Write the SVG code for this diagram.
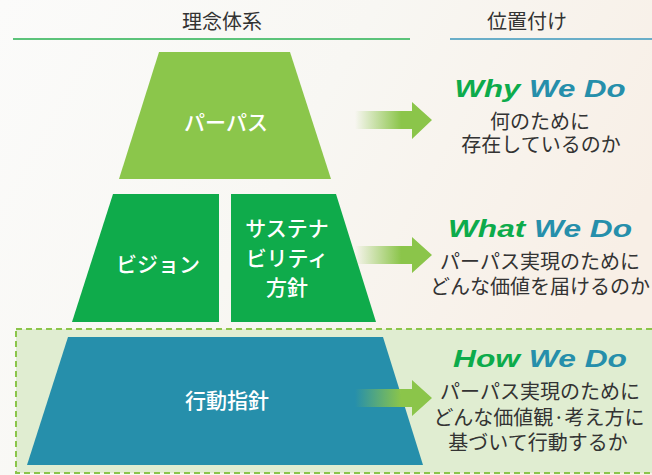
<svg xmlns="http://www.w3.org/2000/svg" width="652" height="475" viewBox="0 0 652 475">
<defs>
<linearGradient id="bg" x1="0" y1="0" x2="1" y2="0.4">
<stop offset="0" stop-color="#fbfbfa"/>
<stop offset="0.5" stop-color="#f8f7f3"/>
<stop offset="1" stop-color="#f8efe6"/>
</linearGradient>
<linearGradient id="arr" x1="0" y1="0" x2="1" y2="0">
<stop offset="0" stop-color="#8bc54a" stop-opacity="0"/>
<stop offset="0.6" stop-color="#8bc54a" stop-opacity="1"/>
<stop offset="1" stop-color="#8bc54a" stop-opacity="1"/>
</linearGradient>
</defs>
<style>
.hd{font-family:"Noto Sans CJK JP","Noto Sans",sans-serif;font-size:20px;fill:#333;text-anchor:middle}
.lb{font-family:"Noto Sans CJK JP","Noto Sans",sans-serif;font-size:21px;font-weight:500;fill:#fff;text-anchor:middle}
.ds{font-family:"Noto Sans CJK JP","Noto Sans",sans-serif;font-size:20px;fill:#333;text-anchor:middle}
.en{font-family:"Liberation Sans",Arial,sans-serif;font-size:23px;font-weight:bold;font-style:italic;text-anchor:middle}
.g{fill:#0dab4b}
.b{fill:#268fab}
</style>
<rect x="0" y="0" width="652" height="475" fill="url(#bg)"/>

<g id="header">
<text class="hd" x="222" y="29">理念体系</text>
<line x1="13" y1="39" x2="410" y2="39" stroke="#5cc37a" stroke-width="2"/>
<text class="hd" x="527" y="29">位置付け</text>
<line x1="450" y1="39" x2="652" y2="39" stroke="#6aaec8" stroke-width="2"/>
</g>

<g id="how-area">
<rect x="16" y="329" width="645" height="144" fill="#e0edd1" stroke="#8bc54a" stroke-width="2" stroke-dasharray="6 4"/>
</g>

<g id="purpose">
<polygon points="159,52 290,52 331,179 119,179" fill="#8bc64b"/>
<text class="lb" x="226" y="130">パーパス</text>
</g>

<g id="vision">
<polygon points="113,194 219,194 219,322 72,322" fill="#0fab4b"/>
<text class="lb" x="158" y="272">ビジョン</text>
</g>

<g id="sustainability">
<polygon points="231,194 336,194 376,322 231,322" fill="#0fab4b"/>
<text class="lb" x="287" y="236">サステナ</text>
<text class="lb" x="287" y="266">ビリティ</text>
<text class="lb" x="287" y="295">方針</text>
</g>

<g id="conduct">
<polygon points="68,337 383,337 423,465 27,465" fill="#268fab"/>
<text class="lb" x="227" y="408">行動指針</text>
</g>

<g id="connectors">
<polygon points="355,111 412,111 412,102 432,120 412,139 412,129 355,129" fill="url(#arr)"/>
<polygon points="355,246 412,246 412,237 432,255 412,273 412,264 355,264" fill="url(#arr)"/>
<polygon points="355,389 412,389 412,380 432,398 412,416 412,407 355,407" fill="url(#arr)"/>
</g>

<g id="why">
<text class="en" x="540" y="97" textLength="171" lengthAdjust="spacingAndGlyphs"><tspan class="g">Why</tspan> <tspan class="b">We Do</tspan></text>
<text class="ds" x="540" y="129">何のために</text>
<text class="ds" x="541" y="152">存在しているのか</text>
</g>

<g id="what">
<text class="en" x="540" y="237" textLength="184" lengthAdjust="spacingAndGlyphs"><tspan class="g">What</tspan> <tspan class="b">We Do</tspan></text>
<text class="ds" x="540" y="269">パーパス実現のために</text>
<text class="ds" x="540" y="294">どんな価値を届けるのか</text>
</g>

<g id="how">
<text class="en" x="540" y="367" textLength="174" lengthAdjust="spacingAndGlyphs"><tspan class="g">How</tspan> <tspan class="b">We Do</tspan></text>
<text class="ds" x="540" y="399">パーパス実現のために</text>
<text class="ds" x="539" y="425">どんな価値観·考え方に</text>
<text class="ds" x="538" y="450">基づいて行動するか</text>
</g>
</svg>
